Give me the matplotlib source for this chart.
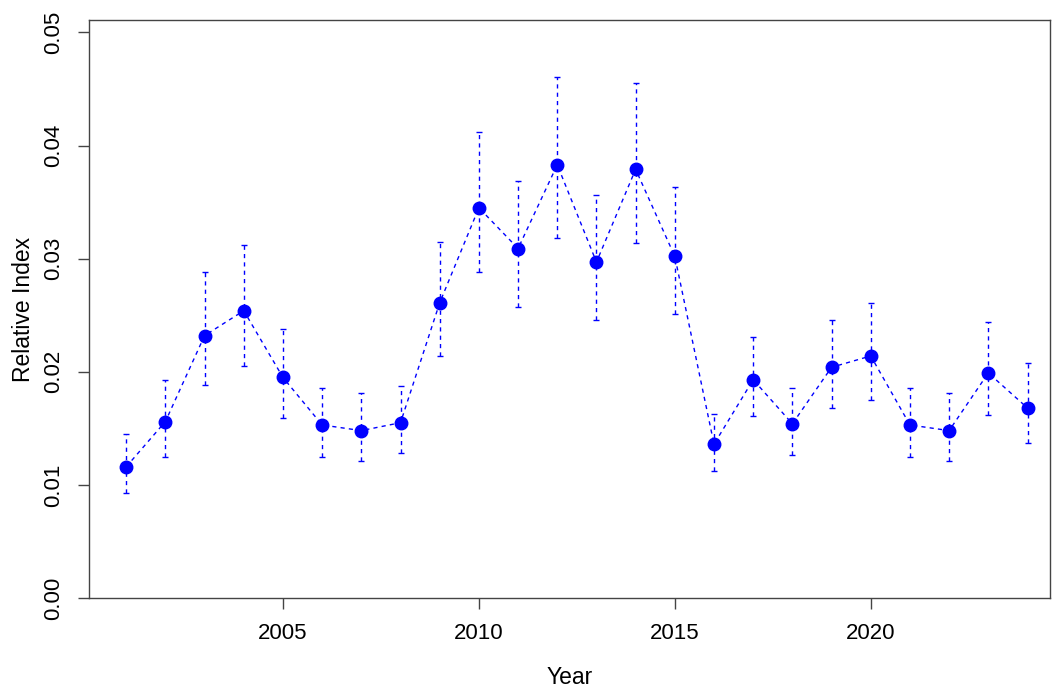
import numpy as np
import matplotlib.pyplot as plt

plt.rcParams["font.family"] = ["Liberation Sans", "DejaVu Sans"]

years = list(range(2001, 2025))
index = [0.0116, 0.0156, 0.0232, 0.0254, 0.0195, 0.0153, 0.0148, 0.0155,
         0.0261, 0.0345, 0.0309, 0.0383, 0.0297, 0.0379, 0.0302, 0.0136,
         0.0193, 0.0154, 0.0204, 0.0214, 0.0153, 0.0148, 0.0199, 0.0168]
upper = [0.0145, 0.0193, 0.0288, 0.0312, 0.0238, 0.0186, 0.0181, 0.0187,
         0.0315, 0.0412, 0.0369, 0.0461, 0.0356, 0.0455, 0.0363, 0.0163,
         0.0231, 0.0186, 0.0246, 0.0261, 0.0186, 0.0181, 0.0244, 0.0208]
lower = [0.0093, 0.0125, 0.0188, 0.0205, 0.0159, 0.0125, 0.0121, 0.0128,
         0.0214, 0.0288, 0.0257, 0.0318, 0.0246, 0.0314, 0.0251, 0.0112,
         0.0161, 0.0126, 0.0168, 0.0175, 0.0125, 0.0121, 0.0162, 0.0137]

fig = plt.figure(figsize=(10.53, 6.90), dpi=100)
ax = fig.add_axes([0.0845, 0.1333, 0.9125, 0.8377])

# error bars: dashed with small caps
ax.vlines(years, lower, upper, colors="blue", linestyles=(0, (3, 3)), linewidth=1)
ax.plot(years, upper, linestyle="none", marker="_", color="blue", markersize=4)
ax.plot(years, lower, linestyle="none", marker="_", color="blue", markersize=4)

ax.plot(years, index, color="blue", linestyle=(0, (3, 3)), linewidth=1,
        marker="o", markersize=9)

ax.set_xlim(2000.05, 2024.57)
ax.set_ylim(0, 0.0511)
ax.set_xticks([2005, 2010, 2015, 2020])
ax.set_yticks([0.0, 0.01, 0.02, 0.03, 0.04, 0.05])
ax.set_yticklabels(["0.00", "0.01", "0.02", "0.03", "0.04", "0.05"],
                   rotation=90, va="center")
ax.tick_params(direction="out", length=8, width=1, colors="#444444",
               labelsize=16, labelcolor="black", pad=10)
for s in ax.spines.values():
    s.set_color("#444444")
    s.set_linewidth(1)

ax.set_xlabel("Year", fontsize=16.5, labelpad=16)
ax.set_ylabel("Relative Index", fontsize=16.5, labelpad=6)

fig.savefig("out.png", dpi=100)
